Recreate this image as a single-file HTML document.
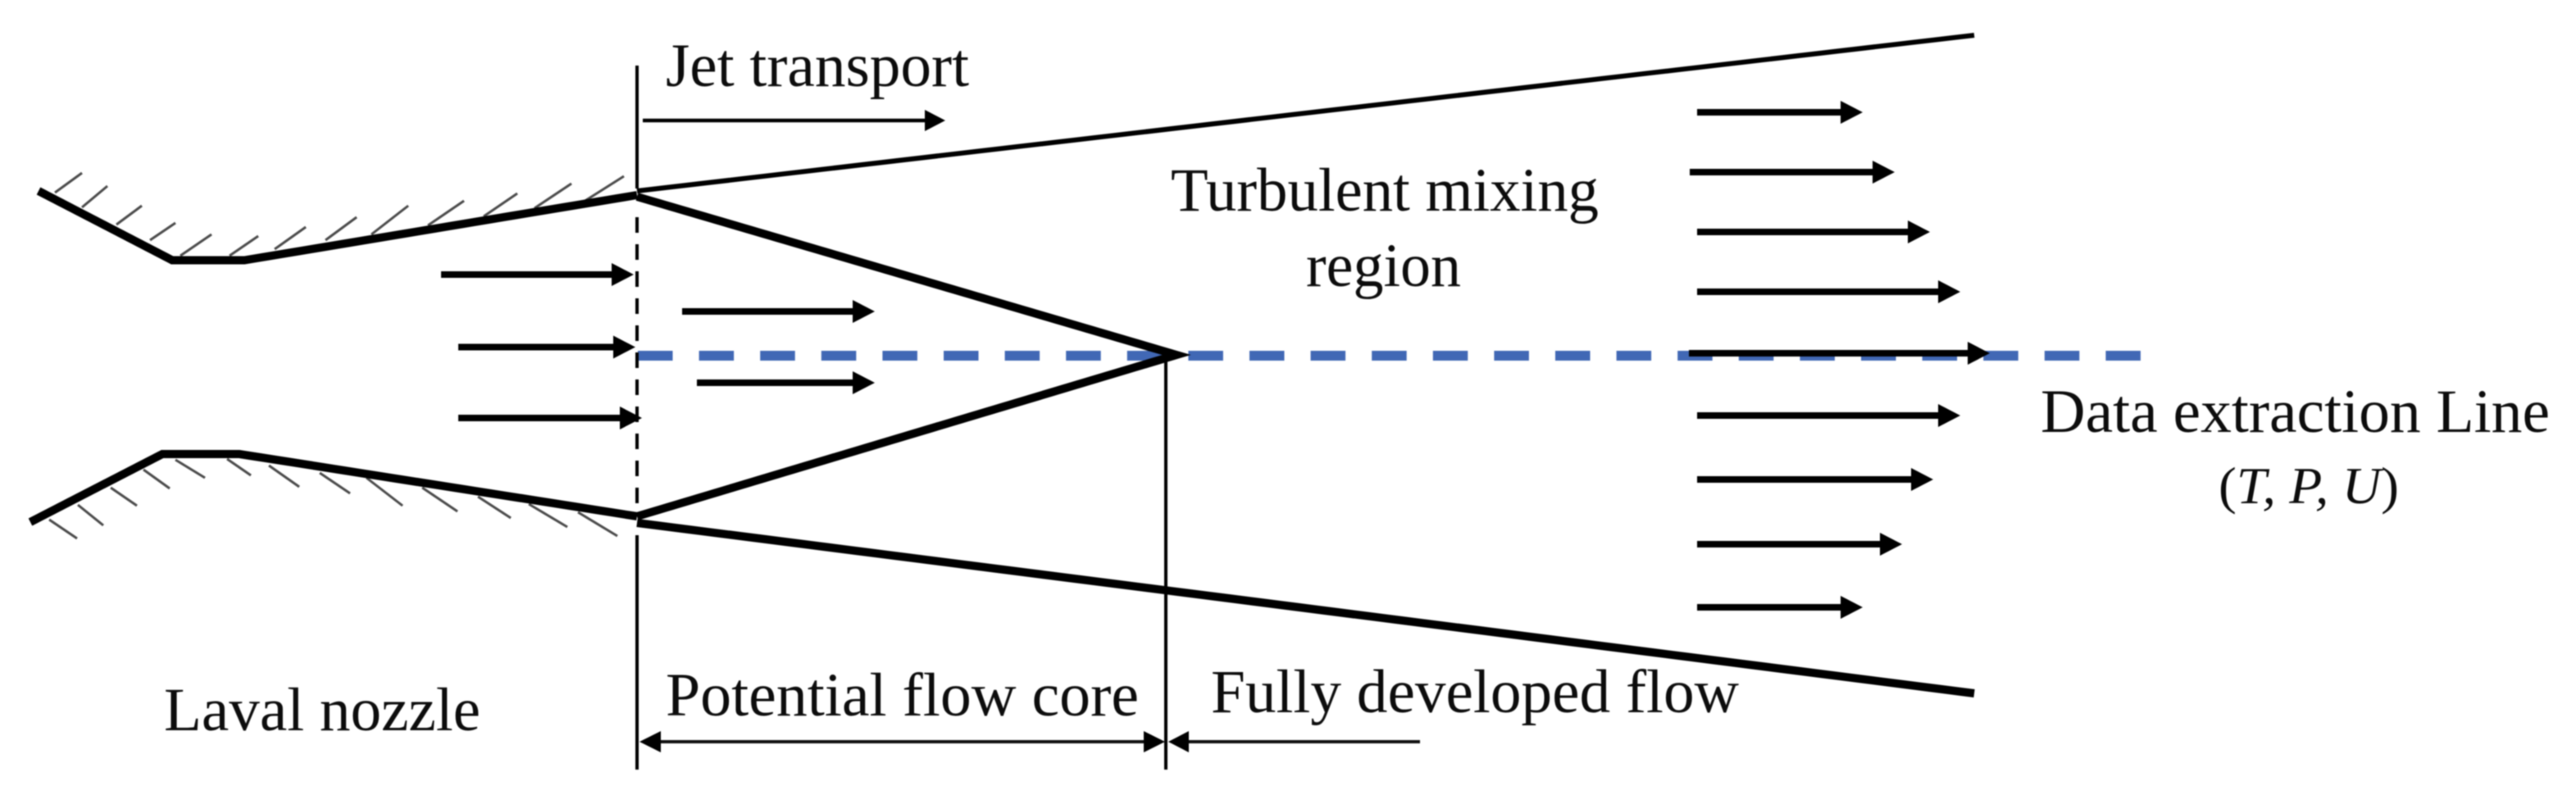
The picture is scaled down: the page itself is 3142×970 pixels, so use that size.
<!DOCTYPE html>
<html><head><meta charset="utf-8">
<style>
html,body{margin:0;padding:0;background:#fff;width:3142px;height:970px;overflow:hidden}
svg{display:block;filter:blur(.8px)}
text{font-family:"Liberation Serif",serif;font-size:75px;fill:#0c0c0c}
.h line{stroke:#4a4a4a;stroke-width:3}
</style></head><body>
<svg width="3142" height="970" viewBox="0 0 3142 970" xmlns="http://www.w3.org/2000/svg">
<defs>
<marker id="a" markerUnits="userSpaceOnUse" markerWidth="28" markerHeight="30" refX="1" refY="15" orient="auto"><path d="M0 1L27 15L0 29Z" fill="#000"/></marker>
<marker id="j" markerUnits="userSpaceOnUse" markerWidth="26" markerHeight="26" refX="1" refY="13" orient="auto"><path d="M0 0L25 13L0 26Z" fill="#000"/></marker>
</defs>

<!-- hatching -->
<g class="h">
<line x1="67" y1="235" x2="100" y2="211"/><line x1="100" y1="253" x2="131" y2="227"/><line x1="142" y1="274" x2="173" y2="251"/><line x1="183" y1="293" x2="214" y2="272"/><line x1="220" y1="312" x2="258" y2="286"/><line x1="280" y1="312" x2="315" y2="288"/><line x1="335" y1="304" x2="373" y2="277"/><line x1="397" y1="293" x2="435" y2="265"/><line x1="453" y1="286" x2="498" y2="251"/><line x1="522" y1="275" x2="566" y2="245"/><line x1="590" y1="264" x2="631" y2="236"/><line x1="652" y1="254" x2="697" y2="224"/><line x1="712" y1="246" x2="761" y2="215"/>
<line x1="60" y1="634" x2="94" y2="657"/><line x1="95" y1="616" x2="126" y2="641"/><line x1="135" y1="595" x2="167" y2="617"/><line x1="175" y1="573" x2="207" y2="596"/><line x1="214" y1="561" x2="250" y2="583"/><line x1="277" y1="560" x2="306" y2="580"/><line x1="328" y1="568" x2="365" y2="594"/><line x1="390" y1="577" x2="427" y2="602"/><line x1="447" y1="583" x2="491" y2="617"/><line x1="515" y1="595" x2="558" y2="624"/><line x1="583" y1="606" x2="623" y2="632"/><line x1="645" y1="615" x2="692" y2="643"/><line x1="705" y1="625" x2="753" y2="654"/>
</g>

<!-- blue dashed centre line -->
<line x1="778" y1="434" x2="2611" y2="434" stroke="#4168b5" stroke-width="12" stroke-dasharray="42.5 32.1"/>

<!-- nozzle and jet walls -->
<g fill="none" stroke="#000" stroke-linejoin="miter" stroke-miterlimit="5">
<polyline points="47,233 210,317.5 298,317.5 777,238" stroke-width="10"/>
<polyline points="37,637 198,554 292,554 777,630" stroke-width="10"/>
<polyline points="777,240 1435,433 777,630" stroke-width="10"/>
<line x1="777" y1="638" x2="2408" y2="846" stroke-width="10"/>
<line x1="777" y1="233" x2="2408" y2="43" stroke-width="6"/>
<line x1="777" y1="80" x2="777" y2="230" stroke-width="4"/>
<line x1="777" y1="265" x2="777" y2="625" stroke-width="4" stroke-dasharray="19 14"/>
<line x1="777" y1="653" x2="777" y2="939" stroke-width="4"/>
<line x1="1422" y1="436" x2="1422" y2="939" stroke-width="4"/>
</g>

<!-- flow arrows -->
<g stroke="#000" stroke-width="8" fill="none">
<line x1="538" y1="335" x2="747" y2="335" marker-end="url(#a)"/>
<line x1="559" y1="423.5" x2="749" y2="423.5" marker-end="url(#a)"/>
<line x1="559" y1="510" x2="757" y2="510" marker-end="url(#a)"/>
<line x1="832" y1="380" x2="1041" y2="380" marker-end="url(#a)"/>
<line x1="850" y1="467" x2="1041" y2="467" marker-end="url(#a)"/>
<line x1="2070" y1="137" x2="2246" y2="137" marker-end="url(#a)"/>
<line x1="2061" y1="210" x2="2285" y2="210" marker-end="url(#a)"/>
<line x1="2070" y1="283" x2="2328" y2="283" marker-end="url(#a)"/>
<line x1="2070" y1="356" x2="2365" y2="356" marker-end="url(#a)"/>
<line x1="2060" y1="431" x2="2401" y2="431" marker-end="url(#a)"/>
<line x1="2070" y1="507" x2="2365" y2="507" marker-end="url(#a)"/>
<line x1="2070" y1="585" x2="2332" y2="585" marker-end="url(#a)"/>
<line x1="2070" y1="664" x2="2294" y2="664" marker-end="url(#a)"/>
<line x1="2070" y1="741" x2="2246" y2="741" marker-end="url(#a)"/>
</g>
<line x1="784" y1="147" x2="1129" y2="147" stroke="#000" stroke-width="4.5" marker-end="url(#j)"/>

<!-- dimension arrows -->
<line x1="806" y1="905" x2="1397" y2="905" stroke="#111" stroke-width="4"/>
<line x1="1449" y1="905" x2="1732" y2="905" stroke="#111" stroke-width="4"/>
<path d="M780 905L806 892V918Z M1421 905L1395 892V918Z M1425 905L1450 892V918Z" fill="#000"/>

<!-- labels -->
<text x="812" y="105" textLength="370" lengthAdjust="spacingAndGlyphs">Jet transport</text>
<text x="1428" y="257" textLength="522" lengthAdjust="spacingAndGlyphs">Turbulent mixing</text>
<text x="1593" y="349" textLength="189" lengthAdjust="spacingAndGlyphs">region</text>
<text x="2489" y="527" textLength="621" lengthAdjust="spacingAndGlyphs">Data extraction Line</text>
<text x="2706" y="614" textLength="220" lengthAdjust="spacingAndGlyphs" style="font-size:64px">(<tspan font-style="italic">T, P, U</tspan>)</text>
<text x="200" y="891" textLength="386" lengthAdjust="spacingAndGlyphs">Laval nozzle</text>
<text x="812" y="873" textLength="577" lengthAdjust="spacingAndGlyphs">Potential flow core</text>
<text x="1477" y="869" textLength="644" lengthAdjust="spacingAndGlyphs">Fully developed flow</text>
</svg>
</body></html>
